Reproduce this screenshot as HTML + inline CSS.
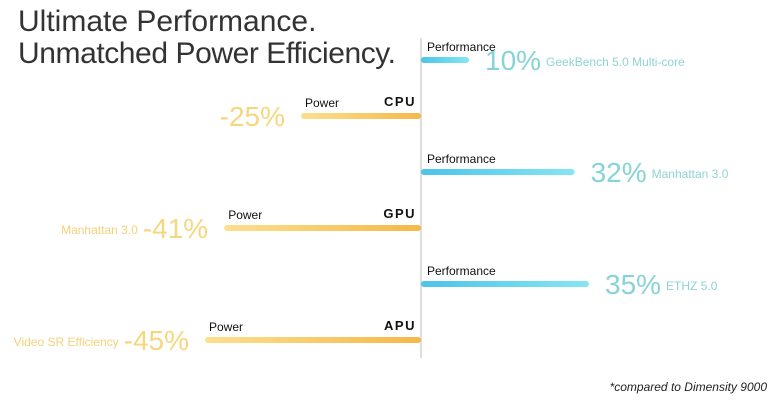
<!DOCTYPE html>
<html><head><meta charset="utf-8"><style>
html,body{margin:0;padding:0;background:#fff;}
svg{display:block;font-family:"Liberation Sans",sans-serif;}
</style></head><body>
<svg id="chart" width="779" height="408" viewBox="0 0 779 408">
<defs>
<linearGradient id="gBlue" x1="0" x2="1" y1="0" y2="0"><stop offset="0" stop-color="#4cc3ea"/><stop offset="1" stop-color="#86e6f0"/></linearGradient>
<linearGradient id="gGold" x1="0" x2="1" y1="0" y2="0"><stop offset="0" stop-color="#fbe08e"/><stop offset="1" stop-color="#f5b84a"/></linearGradient>
</defs>
<text x="18" y="31" font-size="30" fill="#333" font-weight="300">Ultimate Performance.</text>
<text x="18" y="63" font-size="30" fill="#333" font-weight="300" textLength="378">Unmatched Power Efficiency.</text>
<line x1="421" y1="38" x2="421" y2="358" stroke="#c8c8c8" stroke-width="1.2"/>
<text x="767" y="391" font-size="12" font-style="italic" fill="#222" text-anchor="end">*compared to Dimensity 9000</text>
<g id="rows"></g>
</svg>
<script>
const units = ["CPU", "GPU", "APU"];
const perfValues = [10, 32, 35];
const perfBenchmarks = ["GeekBench 5.0 Multi-core", "Manhattan 3.0", "ETHZ 5.0"];
const powerValues = [-25, -41, -45];
const powerBenchmarks = ["", "Manhattan 3.0", "Video SR Efficiency"];

const axisX = 421, pxPerPct = 4.8, rowTop = 60, rowGap = 112;
const xScale = v => Math.abs(v) * pxPerPct;
const rowY = i => rowTop + i * rowGap;
const NS = "http://www.w3.org/2000/svg";
const g = document.getElementById("rows");
function mk(tag, attrs, text) {
  const e = document.createElementNS(NS, tag);
  for (const k in attrs) e.setAttribute(k, attrs[k]);
  if (text !== undefined) e.textContent = text;
  g.appendChild(e);
  return e;
}
units.forEach((u, i) => {
  const py = rowY(i), wy = py + 56;
  const pl = xScale(perfValues[i]);
  let e;
  e = mk("text", {x: axisX + 6, y: py - 9, "font-size": 12, fill: "#111"}, "Performance");
  
  
  e = mk("rect", {x: axisX, y: py - 3, width: pl, height: 6, rx: 3, fill: "url(#gBlue)"});
  
  
  const vx = axisX + pl + 16;
  const pv = mk("text", {x: vx, y: py + 10, "font-size": 28, fill: "#86d3d8", "font-weight": 300}, perfValues[i] + "%");
  
  
  e = mk("text", {x: vx + pv.getComputedTextLength() + 5, y: py + 6, "font-size": 12, fill: "#8fd3d6"}, perfBenchmarks[i]);
  
  

  const wl = xScale(powerValues[i]);
  const bx = axisX - wl;
  e = mk("text", {x: axisX - 5, y: wy - 10, "font-size": 13, "font-weight": "bold", fill: "#111", "text-anchor": "end", "letter-spacing": 1.5}, u);
  
  
  e = mk("rect", {x: bx, y: wy - 3, width: wl, height: 6, rx: 3, fill: "url(#gGold)"});
  
  
  e = mk("text", {x: bx + 4, y: wy - 9, "font-size": 12, fill: "#111"}, "Power");
  
  
  const vx2 = bx - 16;
  const wv = mk("text", {x: vx2, y: wy + 10, "font-size": 28, fill: "#f5d77f", "font-weight": 300, "text-anchor": "end"}, "-" + Math.abs(powerValues[i]) + "%");
  
  
  if (powerBenchmarks[i]) {
    e = mk("text", {x: vx2 - wv.getComputedTextLength() - 5, y: wy + 6, "font-size": 12, fill: "#f2d27a", "text-anchor": "end"}, powerBenchmarks[i]);
    
    
  }
});
</script>
</body></html>
